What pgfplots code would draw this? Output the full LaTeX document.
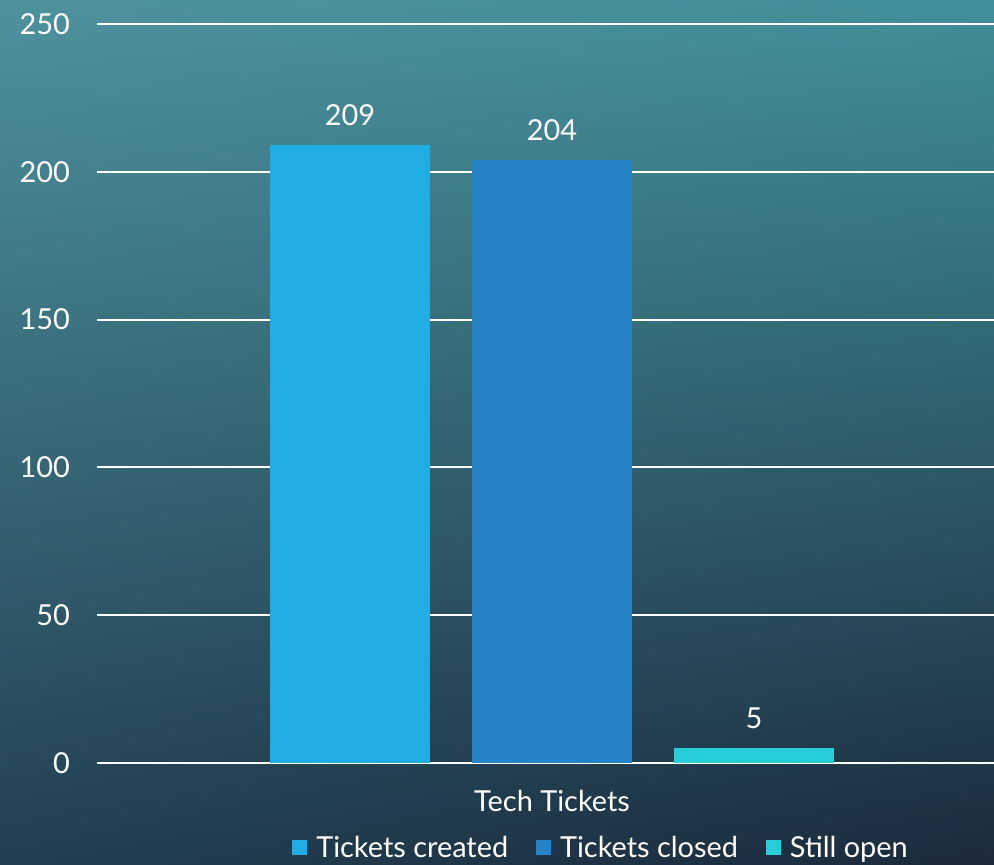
\documentclass[border=0pt]{standalone}
\usepackage{pgfplots}
\pgfplotsset{compat=1.18}
\usetikzlibrary{shadings}
\usepackage{fontspec}
\setmainfont{Lato}

\definecolor{bgUL}{HTML}{4E929E}
\definecolor{bgUR}{HTML}{3F8F9A}
\definecolor{bgLL}{HTML}{213F52}
\definecolor{bgLR}{HTML}{1B2A3B}
\definecolor{created}{HTML}{1FADE4}
\definecolor{closed}{HTML}{2683C6}
\definecolor{stillopen}{HTML}{27CED7}

\begin{document}
\begin{tikzpicture}
  % background, 1 px of the reference = 0.5bp
  \shade[upper left=bgUL, upper right=bgUR, lower left=bgLL, lower right=bgLR]
    (0,0) rectangle (497bp,432.5bp);
  \begin{axis}[
    at={(48.5bp,51bp)}, anchor=south west,
    scale only axis, width=448.5bp, height=369.5bp,
    ybar, bar width=0.792,
    xmin=-2.252, xmax=2.188,
    ymin=0, ymax=250,
    ytick={0,50,...,250},
    xtick={0}, xticklabels={Tech Tickets},
    axis line style={draw=none},
    ymajorgrids, grid style={white, line width=1bp},
    major tick length=0pt,
    /pgf/number format/assume math mode=true,
    tick label style={white, font=\fontsize{14.5}{16}\selectfont},
    yticklabel style={anchor=east, xshift=-10bp},
    xticklabel style={yshift=-10bp},
    nodes near coords,
    every node near coord/.append style={white, font=\fontsize{14.5}{16}\selectfont, yshift=6bp},
    legend style={at={(0.563,-0.115)}, anchor=center, draw=none, fill=none,
      text=white, font=\fontsize{14.5}{16}\selectfont, legend columns=3,
      /tikz/every even column/.append style={column sep=12bp}},
    legend image code/.code={\fill[#1] (0bp,-3.75bp) rectangle (7.5bp,3.75bp);},
  ]
    \addplot[fill=created, draw=none, bar shift=-1] coordinates {(0,209)};
    \addplot[fill=closed, draw=none, bar shift=0] coordinates {(0,204)};
    \addplot[fill=stillopen, draw=none, bar shift=1] coordinates {(0,5)};
    \legend{\hspace{2.5bp}Tickets created, \hspace{2.5bp}Tickets closed, \hspace{2.5bp}Still open}
  \end{axis}
  \pgfresetboundingbox
  \path (0,0) rectangle (497bp,432.5bp);
\end{tikzpicture}
\end{document}
